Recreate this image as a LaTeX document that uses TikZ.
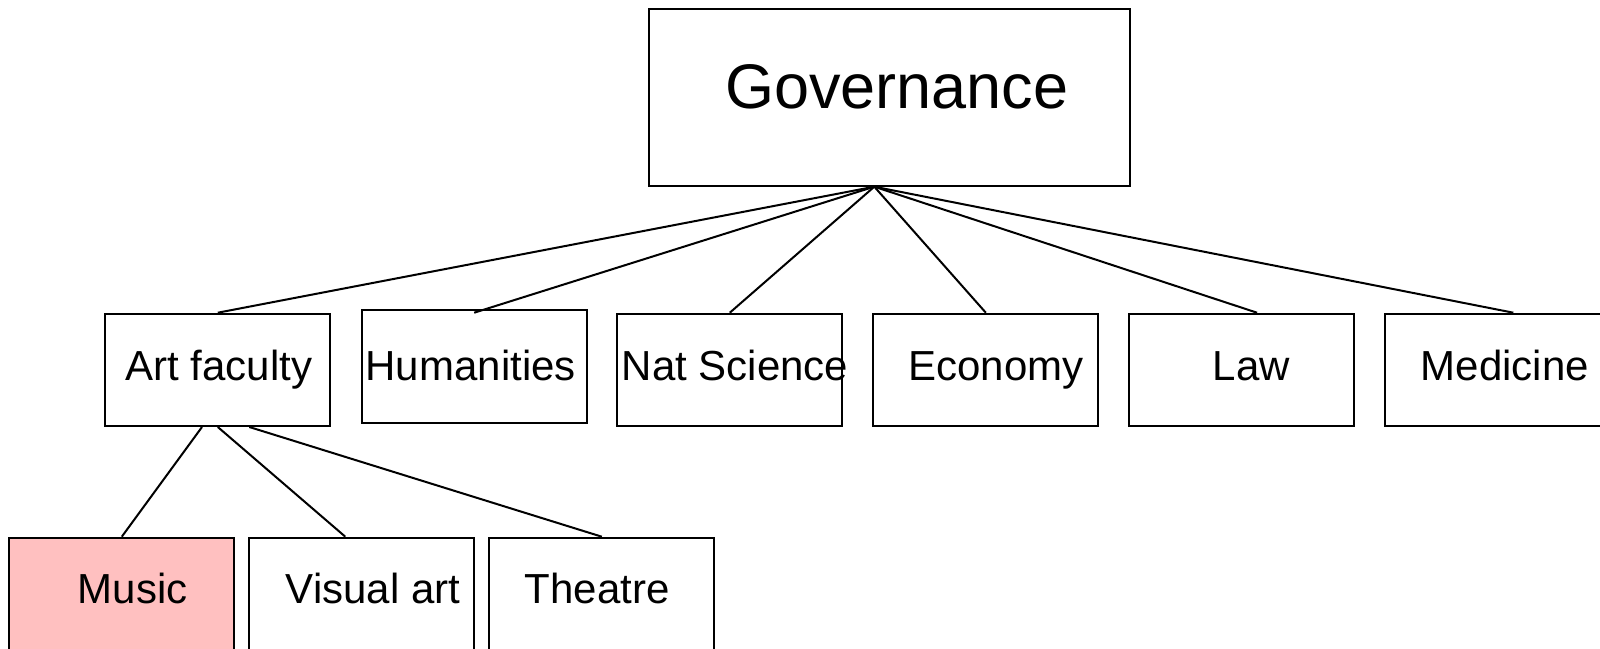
\documentclass[tikz,border=0pt]{standalone}
\usepackage{fontspec}
\setmainfont{Liberation Sans}
\definecolor{pinkfill}{RGB}{255,192,192}
\begin{document}
\begin{tikzpicture}[x=1pt,y=-1pt,
  box/.style={draw=black,line width=2pt,rectangle,inner sep=0pt,minimum width=225pt,minimum height=112.3pt,anchor=north west},
  bigbox/.style={draw=black,line width=2pt,rectangle,inner sep=0pt,minimum width=481.6pt,minimum height=176.4pt,anchor=north west},
  lbl/.style={font=\fontsize{42}{50}\selectfont,inner sep=0pt,anchor=base},
  biglbl/.style={font=\fontsize{63}{74}\selectfont,inner sep=0pt,anchor=base},
  conn/.style={line width=2pt,black}]
\useasboundingbox (0,0) rectangle (1600,648);
% boxes
\node[bigbox] (gov) at (647.7,8.3) {};
\node[box] (art) at (104.3,312.7) {};
\node[box] (hum) at (360.7,309.3) {};
\node[box] (nat) at (616.3,312.7) {};
\node[box] (eco) at (872.3,312.7) {};
\node[box] (law) at (1128.3,312.7) {};
\node[box] (med) at (1384.3,312.7) {};
\node[box,fill=pinkfill] (mus) at (8.3,536.7) {};
\node[box] (vis) at (248.3,536.7) {};
\node[box] (the) at (488.3,536.7) {};
% labels
\node[biglbl] (govT) at (896.7,108.3) {Governance};
\node[lbl] (artT) at (218.8,380) {Art faculty};
\node[lbl] (humT) at (470.7,380) {Humanities};
\node[lbl] (natT) at (735,380) {Nat Science};
\node[lbl] (ecoT) at (996,380) {Economy};
\node[lbl] (lawT) at (1251.3,380) {Law};
\node[lbl] (medT) at (1504.7,380) {Medicine};
\node[lbl] (musT) at (132.5,603.3) {Music};
\node[lbl] (visT) at (373,603.3) {Visual art};
\node[lbl] (theT) at (597,603.3) {Theatre};
% connector anchor points
\coordinate (apex) at ([xshift=-15.2pt]gov.south);
\coordinate (humIn) at ([yshift=-3.4pt]hum.north);
\coordinate (lawIn) at ([xshift=15.2pt]law.north);
\coordinate (medIn) at ([xshift=15.5pt]med.north);
\coordinate (artM) at ([xshift=-15.8pt]art.south);
\coordinate (artT3) at ([xshift=31.5pt]art.south);
\coordinate (visIn) at ([xshift=-16.5pt]vis.north);
% connectors
\draw[conn] (apex) -- (art.north);
\draw[conn] (apex) -- (humIn);
\draw[conn] (apex) -- (nat.north);
\draw[conn] (apex) -- (eco.north);
\draw[conn] (apex) -- (lawIn);
\draw[conn] (apex) -- (medIn);
\draw[conn] (artM) -- (mus.north);
\draw[conn] (art.south) -- (visIn);
\draw[conn] (artT3) -- (the.north);
\end{tikzpicture}
\end{document}
